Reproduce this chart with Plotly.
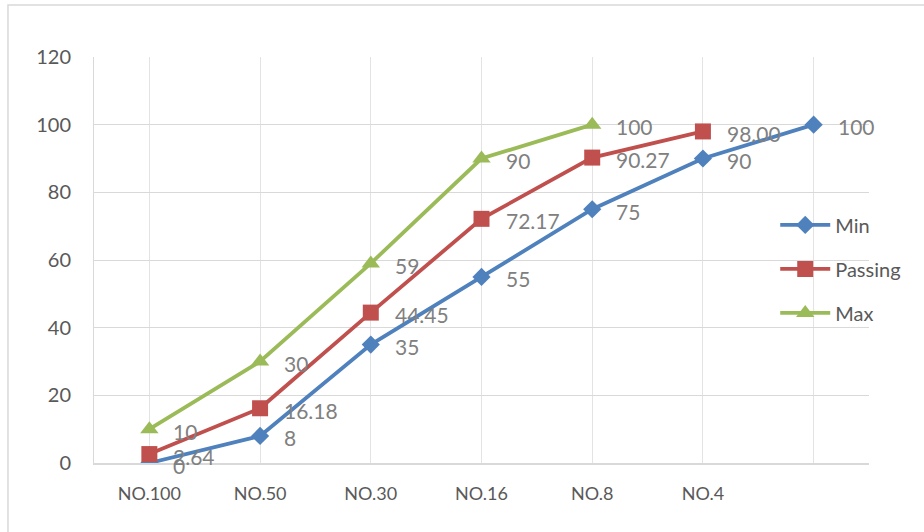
import plotly.graph_objects as go

categories = ["NO.100", "NO.50", "NO.30", "NO.16", "NO.8", "NO.4", ""]
min_vals = [0, 8, 35, 55, 75, 90, 100]
passing_vals = [2.64, 16.18, 44.45, 72.17, 90.27, 98.00]
max_vals = [10, 30, 59, 90, 100]

series = [
    ("Min", min_vals, "#4F81BD", "diamond", 14, "{:.0f}"),
    ("Passing", passing_vals, "#C0504D", "square", 16, "{:.2f}"),
    ("Max", max_vals, "#9BBB59", "triangle-up", 16, "{:.0f}"),
]

FONT = "Lato, Carlito, Calibri, sans-serif"

fig = go.Figure()
annotations = []
for i, (name, vals, color, sym, msize, fmt) in enumerate(series):
    xs = list(range(len(vals)))
    fig.add_trace(go.Scatter(
        x=xs, y=vals, name=name, mode="lines+markers",
        line=dict(color=color, width=3.8),
        marker=dict(symbol=sym, size=msize, color=color),
        legendgroup=name,
    ))
    for xv, yv in zip(xs, vals):
        annotations.append(dict(
            x=xv, y=yv, xref="x", yref="y", text=fmt.format(yv),
            showarrow=False, xanchor="left", yanchor="middle",
            xshift=22, yshift=-2,
            font=dict(family=FONT, size=21, color="#808080"),
        ))

fig.update_layout(
    width=924, height=532,
    margin=dict(l=94, r=55, t=57, b=69),
    paper_bgcolor="white", plot_bgcolor="white",
    font=dict(family=FONT, color="#595959"),
    annotations=annotations,
    showlegend=True,
    legend=dict(
        x=0.879, xanchor="left", y=0.478, yanchor="middle",
        bgcolor="rgba(0,0,0,0)", font=dict(size=20, color="#595959"),
        tracegroupgap=15, itemwidth=50,
    ),
    shapes=[dict(
        type="rect", xref="paper", yref="paper",
        x0=-0.111, x1=1.2, y0=-0.3, y1=1.128,
        line=dict(color="#d9d9d9", width=1.5), layer="below",
    )],
)

fig.update_xaxes(
    range=[-0.5, len(categories) - 0.5],
    tickmode="array", tickvals=list(range(len(categories))), ticktext=categories,
    showgrid=True, gridcolor="#e3e3e3", gridwidth=1,
    showline=True, linecolor="#d9d9d9", linewidth=1.5,
    ticks="", ticklabelstandoff=14,
    tickfont=dict(size=18, color="#595959"),
    zeroline=False, fixedrange=True,
)
fig.update_yaxes(
    range=[0, 120], dtick=20, tick0=0,
    showgrid=True, gridcolor="#d9d9d9", gridwidth=1,
    showline=True, linecolor="#d9d9d9", linewidth=1,
    ticks="", ticklabelstandoff=18,
    tickfont=dict(size=20, color="#595959"),
    zeroline=False,
)

fig.write_html("out.html")
